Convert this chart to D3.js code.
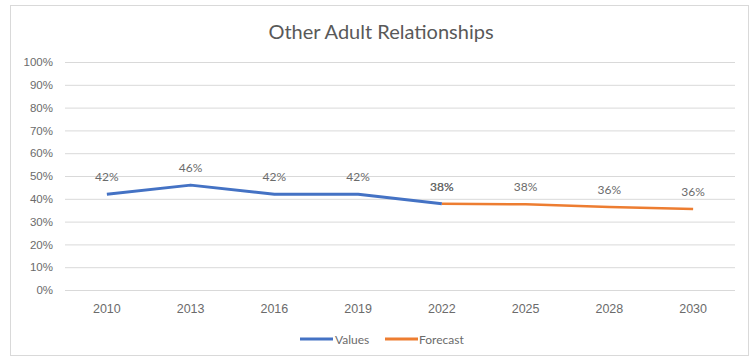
<!DOCTYPE html>
<html><head><meta charset="utf-8">
<script src="https://cdn.jsdelivr.net/npm/d3@7"></script>
<style>body{margin:0;background:#fff;}svg{display:block;font-family:Lato,"Open Sans",sans-serif;}</style>
</head><body><svg id="c" width="756" height="358"></svg>
<script>
const categories = ["2010","2013","2016","2019","2022","2025","2028","2030"];
const valuesSeries = [0.42,0.46,0.42,0.42,0.378,null,null,null];
const forecastSeries = [null,null,null,null,0.378,0.376,0.364,0.355];
const yTicks = [0,0.1,0.2,0.3,0.4,0.5,0.6,0.7,0.8,0.9,1.0];
const title = "Other Adult Relationships";
const legendLabels = ["Values","Forecast"];
const colors = ["#4472C4","#ED7D31"];

const svg = d3.select("#c");
svg.append("rect").attr("x",10.5).attr("y",5.5).attr("width",738).attr("height",350)
  .attr("fill","#fff").attr("stroke","#d9d9d9");
const x = d3.scaleBand().domain(categories).range([65,735]);
const y = d3.scaleLinear().domain([0,1]).range([290,62]);
const cx = c => x(c)+x.bandwidth()/2;

svg.append("text").attr("x",381).attr("y",39).attr("text-anchor","middle")
  .attr("font-size",20).attr("fill","#595959").text(title);

const ya = svg.append("g").attr("transform","translate(65,0)")
  .call(d3.axisLeft(y).tickValues(yTicks).tickFormat(d3.format(".0%")).tickSize(-670).tickPadding(12));
ya.select(".domain").remove();
ya.selectAll("line").attr("stroke","#d9d9d9");
ya.selectAll("text").attr("fill","#6b6b6b").attr("font-size",11.5);

const xa = svg.append("g").attr("transform","translate(0,290)")
  .call(d3.axisBottom(x).tickSize(0).tickPadding(14));
xa.select(".domain").remove();
xa.selectAll("text").attr("fill","#6b6b6b").attr("font-size",12.5);

const series = [valuesSeries, forecastSeries];
series.forEach((s,i)=>{
  const pts = categories.map((c,j)=>({c,v:s[j]})).filter(d=>d.v!=null);
  svg.append("path").datum(pts)
    .attr("d", d3.line().x(d=>cx(d.c)).y(d=>y(d.v)))
    .attr("fill","none").attr("stroke",colors[i]).attr("stroke-width", i===0?3:2.5)
    .attr("stroke-linejoin","round");
  svg.selectAll(null).data(pts).enter().append("text")
    .attr("x",d=>cx(d.c)).attr("y",d=>y(d.v)-13)
    .attr("text-anchor","middle").attr("font-size",12).attr("fill","#6b6b6b")
    .text(d=>d3.format(".0%")(d.v));
});

const lg = svg.append("g");
[[300,335],[385,419]].forEach((p,i)=>{
  lg.append("line").attr("x1",p[0]).attr("x2",p[0]+33).attr("y1",339).attr("y2",339)
    .attr("stroke",colors[i]).attr("stroke-width",3);
  lg.append("text").attr("x",p[1]).attr("y",343.5).attr("font-size",12).attr("fill","#6b6b6b").text(legendLabels[i]);
});
</script></body></html>
